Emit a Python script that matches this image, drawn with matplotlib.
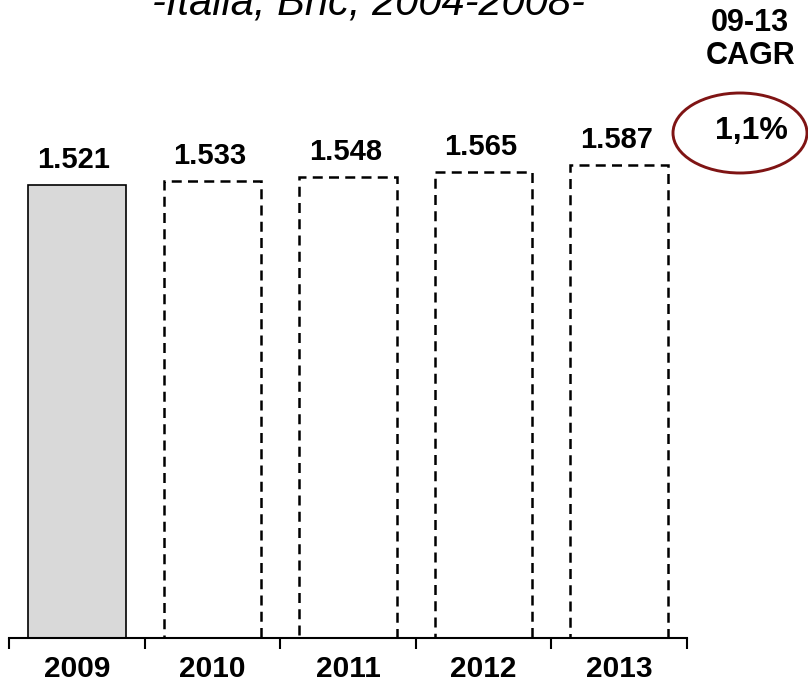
import matplotlib.pyplot as plt
from matplotlib.patches import Ellipse

plt.rcParams["font.family"] = ["Liberation Sans", "DejaVu Sans"]

years = ["2009", "2010", "2011", "2012", "2013"]
values = [1521, 1533, 1548, 1565, 1587]
is_forecast = [False, True, True, True, True]
cagr_label = "1,1%"
title = "-Italia, Bnc, 2004-2008-"

W, H = 808, 691
fig = plt.figure(figsize=(W / 100, H / 100), dpi=100)
# axes placed in pixel units: bottom spine at y=638, top at y=100
ax = fig.add_axes([9 / W, 53 / H, 678 / W, 538 / H])

x = list(range(len(years)))
for xi, v, fc in zip(x, values, is_forecast):
    if fc:
        ax.bar(xi, v, width=0.72, color="white", edgecolor="black",
               linewidth=1.8, linestyle=(0, (4.0, 2.5)), zorder=2)
    else:
        ax.bar(xi, v, width=0.72, color="#d9d9d9", edgecolor="black",
               linewidth=1.2, zorder=2)
    ax.annotate(f"{v / 1000:.3f}", (xi, v), xytext=(-2, 8),
                textcoords="offset points", ha="center", va="bottom",
                fontsize=21, fontweight="bold")

ax.set_xlim(-0.5, len(years) - 0.5)
ax.set_ylim(0, 1806)
for s in ["top", "right", "left"]:
    ax.spines[s].set_visible(False)
ax.spines["bottom"].set_linewidth(1.5)
ax.spines["bottom"].set_zorder(3)
ax.set_yticks([])

# category boundaries get the tick marks, labels sit between them
ax.set_xticks([i - 0.5 for i in range(len(years) + 1)])
ax.set_xticklabels([])
ax.set_xticks(x, minor=True)
ax.set_xticklabels(years, minor=True, fontsize=21.5, fontweight="bold")
ax.tick_params(axis="x", which="major", direction="out", length=8, width=1.5)
ax.tick_params(axis="x", which="minor", length=0, pad=12)

fig.text(368 / W, 1 - 15 / H, title, ha="center", va="baseline",
         fontsize=30, fontstyle="italic")
fig.text(750 / W, 1 - 23 / H, "09-13", ha="center", va="center",
         fontsize=22, fontweight="bold")
fig.text(751 / W, 1 - 56 / H, "CAGR", ha="center", va="center",
         fontsize=22, fontweight="bold")

ell = Ellipse((740 / W, 1 - 133 / H), 134 / W, 80 / H, transform=fig.transFigure,
              facecolor="none", edgecolor="#7f1414", linewidth=2.1)
fig.add_artist(ell)
fig.text(751 / W, 1 - 131 / H, cagr_label, ha="center", va="center",
         fontsize=23, fontweight="bold")

fig.savefig("out.png", dpi=100)
